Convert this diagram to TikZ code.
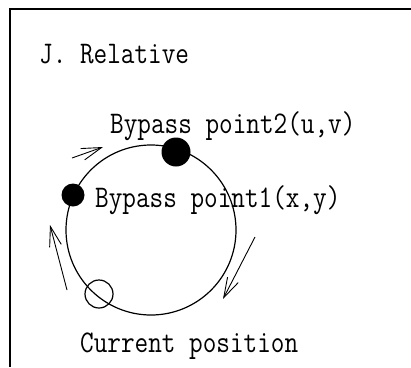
\documentclass[tikz,border=0pt]{standalone}
\usepackage{fontspec}
\newfontfamily\reffont[FakeStretch=0.84]{Latin Modern Mono}
\usetikzlibrary{arrows.meta}
\begin{document}
\begin{tikzpicture}[x=1pt,y=-1pt,
  lbl/.style={anchor=base west,inner sep=0,font=\reffont\fontsize{31.5}{31.5}\selectfont},
  bigdot/.style={circle,fill=black,inner sep=0,minimum size=#1},
  opendot/.style={circle,draw=black,line width=1.2pt,inner sep=0,minimum size=28pt},
  motion/.style={line width=0.9pt,-{Straight Barb[length=20pt,width=12pt,line width=0.9pt]}}]
\useasboundingbox (0,0) rectangle (411,367);
% frame
\draw[line width=2.2pt] (411,9) -- (10,9) -- (10,367);
% circle path
\coordinate (c) at (151,230);
\draw[line width=1.2pt] (c) circle[radius=85];
% points
\node[bigdot=23pt] (p1) at (73,195) {};
\node[bigdot=29pt] (p2) at (176,152) {};
\node[opendot] (cur) at (99,294) {};
% labels
\node[lbl] (title) at (39,63) {J. Relative};
\node[lbl] (l2) at (110,133) {Bypass point2(u,v)};
\node[lbl] (l1) at (95,207) {Bypass point1(x,y)};
\node[lbl] (lc) at (80,352) {Current position};
% direction arrows
\coordinate (a1s) at (72,158); \coordinate (a1e) at (103,147);
\coordinate (a2s) at (67,290); \coordinate (a2e) at (50,225);
\coordinate (a3s) at (255,237); \coordinate (a3e) at (223,299);
\draw[motion] (a1s) -- (a1e);
\draw[motion] (a2s) -- (a2e);
\draw[motion] (a3s) -- (a3e);
\end{tikzpicture}
\end{document}
